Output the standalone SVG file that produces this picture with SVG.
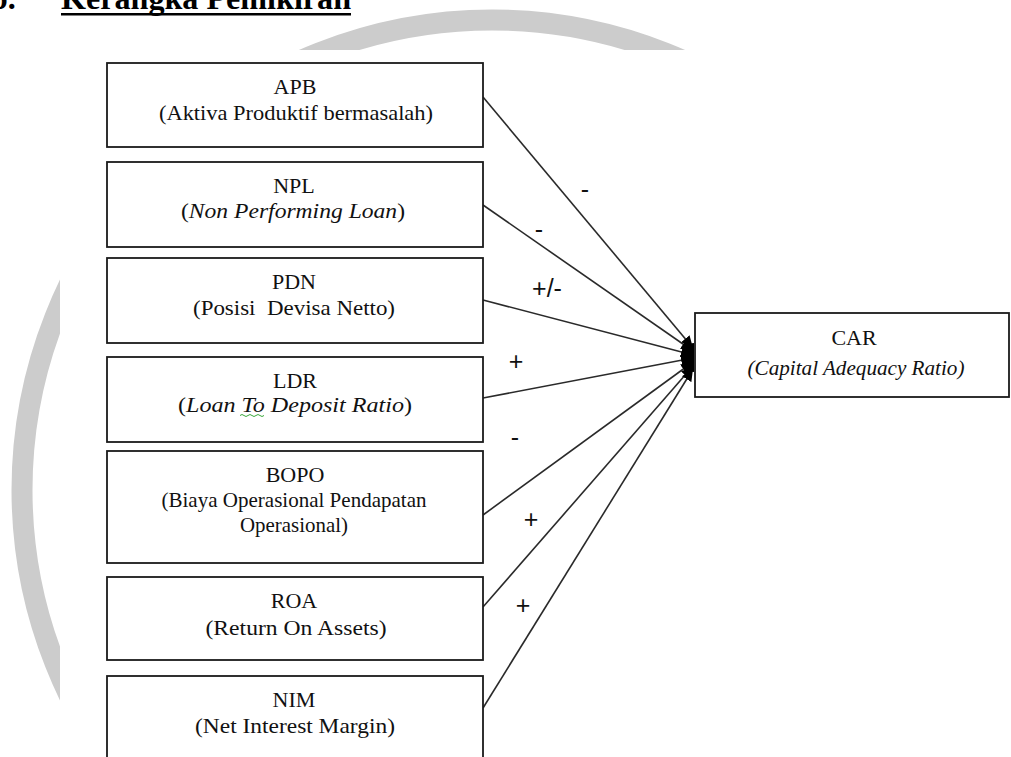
<svg xmlns="http://www.w3.org/2000/svg" width="1011" height="757" viewBox="0 0 1011 757">
  <style>
    .box { fill: #ffffff; stroke: #1a1a1a; stroke-width: 1.8; }
    .t { font-family: "Liberation Serif", "Times New Roman", serif; font-size: 22px; fill: #111; text-anchor: middle; }
    .it { font-style: italic; }
    .conn { stroke: #2a2a2a; stroke-width: 1.6; fill: none; }
    .lbl { font-family: "Liberation Sans", Arial, sans-serif; font-size: 25px; fill: #111; text-anchor: middle; }
    .ttl { font-family: "Liberation Serif", "Times New Roman", serif; font-size: 32px; font-weight: bold; fill: #000; }
  </style>
  <defs>
    <clipPath id="wmclip">
      <rect x="0" y="0" width="1011" height="50"/>
      <rect x="0" y="0" width="60" height="757"/>
    </clipPath>
    <marker id="arr" markerUnits="userSpaceOnUse" markerWidth="13" markerHeight="11" refX="12" refY="5.5" orient="auto">
      <path d="M0,0 L12,5.5 L0,11 z" fill="#000"/>
    </marker>
  </defs>
  <rect x="0" y="0" width="1011" height="757" fill="#ffffff"/>

  <!-- watermark arc -->
  <g id="watermark" clip-path="url(#wmclip)">
    <circle cx="492" cy="490" r="470" fill="none" stroke="#cccccc" stroke-width="21"/>
  </g>

  <!-- heading -->
  <g id="heading">
    <text class="ttl" x="-10" y="9">b.</text>
    <text class="ttl" x="61" y="9" textLength="290" lengthAdjust="spacingAndGlyphs">Kerangka Pemikiran</text>
    <rect x="61" y="13" width="290" height="2.5" fill="#000"/>
  </g>

  <!-- connectors -->
  <g id="connectors">
    <line class="conn" x1="483" y1="97" x2="693" y2="348" marker-end="url(#arr)"/>
    <line class="conn" x1="483" y1="205" x2="693" y2="351" marker-end="url(#arr)"/>
    <line class="conn" x1="483" y1="300" x2="693" y2="355" marker-end="url(#arr)"/>
    <line class="conn" x1="483" y1="398" x2="693" y2="358" marker-end="url(#arr)"/>
    <line class="conn" x1="483" y1="515" x2="693" y2="362" marker-end="url(#arr)"/>
    <line class="conn" x1="483" y1="607" x2="693" y2="366" marker-end="url(#arr)"/>
    <line class="conn" x1="483" y1="708" x2="693" y2="369" marker-end="url(#arr)"/>
    <path d="M694,343 A11,14.5 0 0 0 694,372 z" fill="#000"/>
    <text class="lbl" x="585" y="198">-</text>
    <text class="lbl" x="539" y="238">-</text>
    <text class="lbl" x="547" y="297">+/-</text>
    <text class="lbl" x="516" y="370">+</text>
    <text class="lbl" x="515" y="446">-</text>
    <text class="lbl" x="531" y="528">+</text>
    <text class="lbl" x="523" y="614">+</text>
  </g>

  <g id="apb">
    <rect class="box" x="107" y="63" width="376" height="84"/>
    <text class="t" x="295" y="94">APB</text>
    <text class="t" x="296" y="120" textLength="274" lengthAdjust="spacingAndGlyphs">(Aktiva Produktif bermasalah)</text>
  </g>

  <g id="npl">
    <rect class="box" x="107" y="162" width="376" height="85"/>
    <text class="t" x="294" y="193">NPL</text>
    <text class="t" x="293" y="218" textLength="224" lengthAdjust="spacingAndGlyphs">(<tspan class="it">Non Performing Loan</tspan>)</text>
  </g>

  <g id="pdn">
    <rect class="box" x="107" y="258" width="376" height="85"/>
    <text class="t" x="294" y="289">PDN</text>
    <text class="t" x="294" y="315" textLength="202" lengthAdjust="spacingAndGlyphs" xml:space="preserve">(Posisi  Devisa Netto)</text>
  </g>

  <g id="ldr">
    <rect class="box" x="107" y="357" width="376" height="85"/>
    <text class="t" x="295" y="388">LDR</text>
    <text class="t" x="295" y="412" textLength="234" lengthAdjust="spacingAndGlyphs">(<tspan class="it">Loan To Deposit Ratio</tspan>)</text>
    <path d="M240,415.5 q2,-2 4,0 t4,0 t4,0 t4,0 t4,0 t4,0" fill="none" stroke="#3aa83a" stroke-width="1"/>
  </g>

  <g id="bopo">
    <rect class="box" x="107" y="451" width="376" height="112"/>
    <text class="t" x="295" y="482">BOPO</text>
    <text class="t" x="294" y="507" textLength="265" lengthAdjust="spacingAndGlyphs">(Biaya Operasional Pendapatan</text>
    <text class="t" x="294" y="532" textLength="108" lengthAdjust="spacingAndGlyphs">Operasional)</text>
  </g>

  <g id="roa">
    <rect class="box" x="107" y="577" width="376" height="83"/>
    <text class="t" x="294" y="608">ROA</text>
    <text class="t" x="296" y="635" textLength="181" lengthAdjust="spacingAndGlyphs">(Return On Assets)</text>
  </g>

  <g id="nim">
    <rect class="box" x="107" y="676" width="376" height="100"/>
    <text class="t" x="294" y="707">NIM</text>
    <text class="t" x="295" y="733" textLength="200" lengthAdjust="spacingAndGlyphs">(Net Interest Margin)</text>
  </g>

  <g id="car">
    <rect class="box" x="695" y="313" width="314" height="84"/>
    <text class="t" x="854" y="345">CAR</text>
    <text class="t it" x="856" y="375" textLength="217" lengthAdjust="spacingAndGlyphs">(Capital Adequacy Ratio)</text>
  </g>
</svg>
